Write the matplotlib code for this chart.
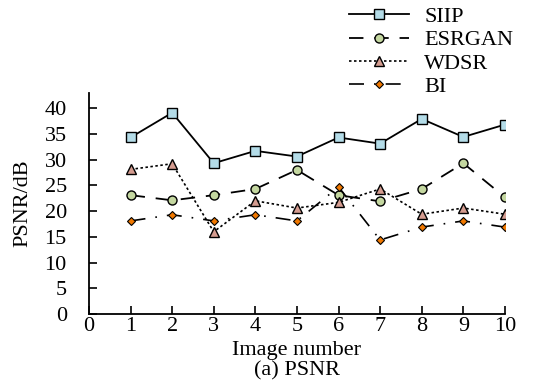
import numpy as np
import matplotlib
matplotlib.use('Agg')
import matplotlib.pyplot as plt

plt.rcParams['font.family'] = ['Liberation Serif', 'DejaVu Serif']

images = [1, 2, 3, 4, 5, 6, 7, 8, 9, 10]
siip = [34.3, 39.1, 29.3, 31.7, 30.6, 34.3, 33.1, 37.9, 34.4, 36.8]
esrgan = [23.1, 22.1, 23.1, 24.3, 28.0, 23.1, 21.9, 24.3, 29.3, 22.7]
wdsr = [28.1, 29.2, 16.0, 22.0, 20.6, 21.7, 24.3, 19.4, 20.6, 19.4]
bi = [18.1, 19.3, 18.1, 19.3, 18.1, 24.7, 14.4, 16.9, 18.1, 16.9]

fs = 16

fig = plt.figure(figsize=(5.36, 3.85), dpi=100)
ax = fig.add_axes([0.166, 0.184, 0.776, 0.574])

ax.plot(images, siip, '-', color='black', lw=1.3, marker='s', ms=6.5,
        mfc='#b4dce8', mec='black', mew=1.0, label='SIIP')
ax.plot(images, esrgan, color='black', lw=1.3, dashes=(8, 6), marker='o', ms=6.5,
        mfc='#c4d7a0', mec='black', mew=1.0, label='ESRGAN')
ax.plot(images, wdsr, color='black', lw=1.2, dashes=(1.5, 1.5), marker='^', ms=6.5,
        mfc='#d49c90', mec='black', mew=1.0, label='WDSR')
ax.plot(images, bi, color='black', lw=1.2, dashes=(9, 6, 1, 6), marker='D', ms=4.5,
        mfc='#f07800', mec='black', mew=0.8, label='BI')

ax.set_xlim(0, 10)
ax.set_ylim(0, 42.9)
ax.set_xticks(range(0, 11))
ax.set_yticks(range(0, 41, 5))
ax.spines['top'].set_visible(False)
ax.spines['right'].set_visible(False)
ax.spines['left'].set_linewidth(1.3)
ax.spines['bottom'].set_linewidth(1.3)
ax.tick_params(direction='in', length=6, width=1.2, labelsize=fs, pad=2)
ax.tick_params(axis='y', pad=16)

ax.set_ylabel('PSNR/dB', fontsize=fs, labelpad=9)
ax.set_xlabel('Image number\n(a) PSNR', fontsize=fs, labelpad=4, linespacing=1.05)

fig.legend(loc='upper left', bbox_to_anchor=(0.613, 1.035), frameon=False,
           fontsize=fs, handlelength=2.7, labelspacing=0.12, handletextpad=0.7)

fig.savefig('out.png', dpi=100)
